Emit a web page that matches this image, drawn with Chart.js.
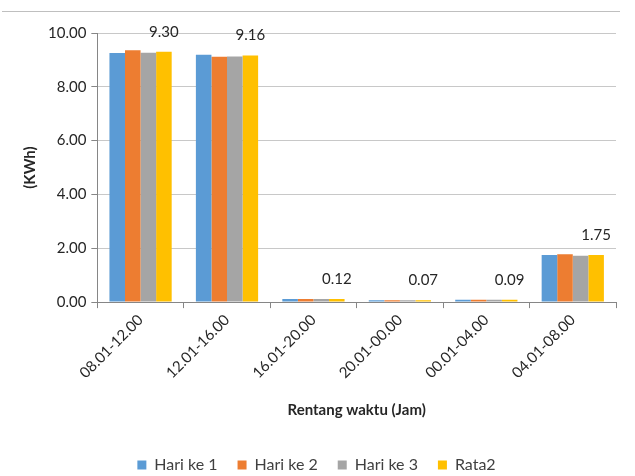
<!DOCTYPE html>
<html>
<head>
<meta charset="utf-8">
<script src="https://cdn.jsdelivr.net/npm/chart.js@4"></script>
<style>
    html, body { margin: 0; padding: 0; background: #fff; }
    #wrap { position: relative; width: 635px; height: 476px; }
    #wrap:before {
        content: ""; position: absolute; left: 2px; top: 11px;
        width: 618px; border-top: 1px solid #bfbfbf;
    }
</style>
</head>
<body>
<div id="wrap"><canvas id="chart-kwh" width="635" height="476"></canvas></div>
<script>
// data
const labels = ["08.01-12.00", "12.01-16.00", "16.01-20.00", "20.01-00.00", "00.01-04.00", "04.01-08.00"];
const hari1 = [9.26, 9.19, 0.12, 0.07, 0.09, 1.75];
const hari2 = [9.36, 9.12, 0.12, 0.07, 0.09, 1.78];
const hari3 = [9.27, 9.13, 0.12, 0.07, 0.09, 1.72];
const rata2 = [9.30, 9.16, 0.12, 0.07, 0.09, 1.75];
const yTicks = [0, 2, 4, 6, 8, 10];

const fontFamily = "Lato, 'Open Sans', sans-serif";

// label nilai di atas bar Rata2
const rataLabels = {
    id: "rataLabels",
    afterDatasetsDraw(chart) {
        const ctx = chart.ctx;
        const meta = chart.getDatasetMeta(3);
        ctx.save();
        ctx.font = `15px ${fontFamily}`;
        ctx.fillStyle = "#262626";
        ctx.textAlign = "center";
        ctx.textBaseline = "middle";
        meta.data.forEach((bar, i) => {
            ctx.fillText(rata2[i].toFixed(2), bar.x, bar.y - 20);
        });
        ctx.restore();
    },
};

new Chart(document.getElementById("chart-kwh"), {
    type: "bar",
    data: {
        labels: labels,
        datasets: [
            { label: "Hari ke 1", data: hari1, backgroundColor: "#5B9BD5" },
            { label: "Hari ke 2", data: hari2, backgroundColor: "#ED7D31" },
            { label: "Hari ke 3", data: hari3, backgroundColor: "#A5A5A5" },
            { label: "Rata2", data: rata2, backgroundColor: "#FFC000" },
        ],
    },
    options: {
        responsive: false,
        animation: false,
        layout: { padding: { top: 33, right: 19, left: 17, bottom: 0 } },
        datasets: {
            bar: { barPercentage: 1, categoryPercentage: 0.72 },
        },
        plugins: {
            legend: {
                position: "bottom",
                maxHeight: 39,
                labels: {
                    boxWidth: 9,
                    boxHeight: 9,
                    padding: 20,
                    color: "#404040",
                    font: { family: fontFamily, size: 16 },
                },
            },
            tooltip: { enabled: false },
        },
        scales: {
            y: {
                min: 0,
                max: 10,
                afterBuildTicks: (axis) => {
                    axis.ticks = yTicks.map((v) => ({ value: v }));
                },
                border: { display: true, color: "#868686" },
                grid: { color: "#c8c8c8", tickLength: 6, tickColor: "#868686" },
                ticks: {
                    padding: 5,
                    color: "#262626",
                    font: { family: fontFamily, size: 15 },
                    callback: (value) => Number(value).toFixed(2),
                },
                title: {
                    display: true,
                    text: "(KWh)",
                    color: "#262626",
                    font: { family: fontFamily, size: 15, weight: "bold" },
                    padding: { bottom: 4 },
                },
            },
            x: {
                border: { display: true, color: "#868686" },
                grid: { drawOnChartArea: false, tickLength: 6, tickColor: "#868686", offset: true },
                ticks: {
                    minRotation: 45,
                    maxRotation: 45,
                    color: "#262626",
                    font: { family: fontFamily, size: 15 },
                },
                title: {
                    display: true,
                    text: "Rentang waktu (Jam)",
                    color: "#262626",
                    font: { family: fontFamily, size: 15, weight: "bold" },
                    padding: { top: 16, bottom: 18 },
                },
            },
        },
    },
    plugins: [rataLabels],
});
</script>
</body>
</html>
